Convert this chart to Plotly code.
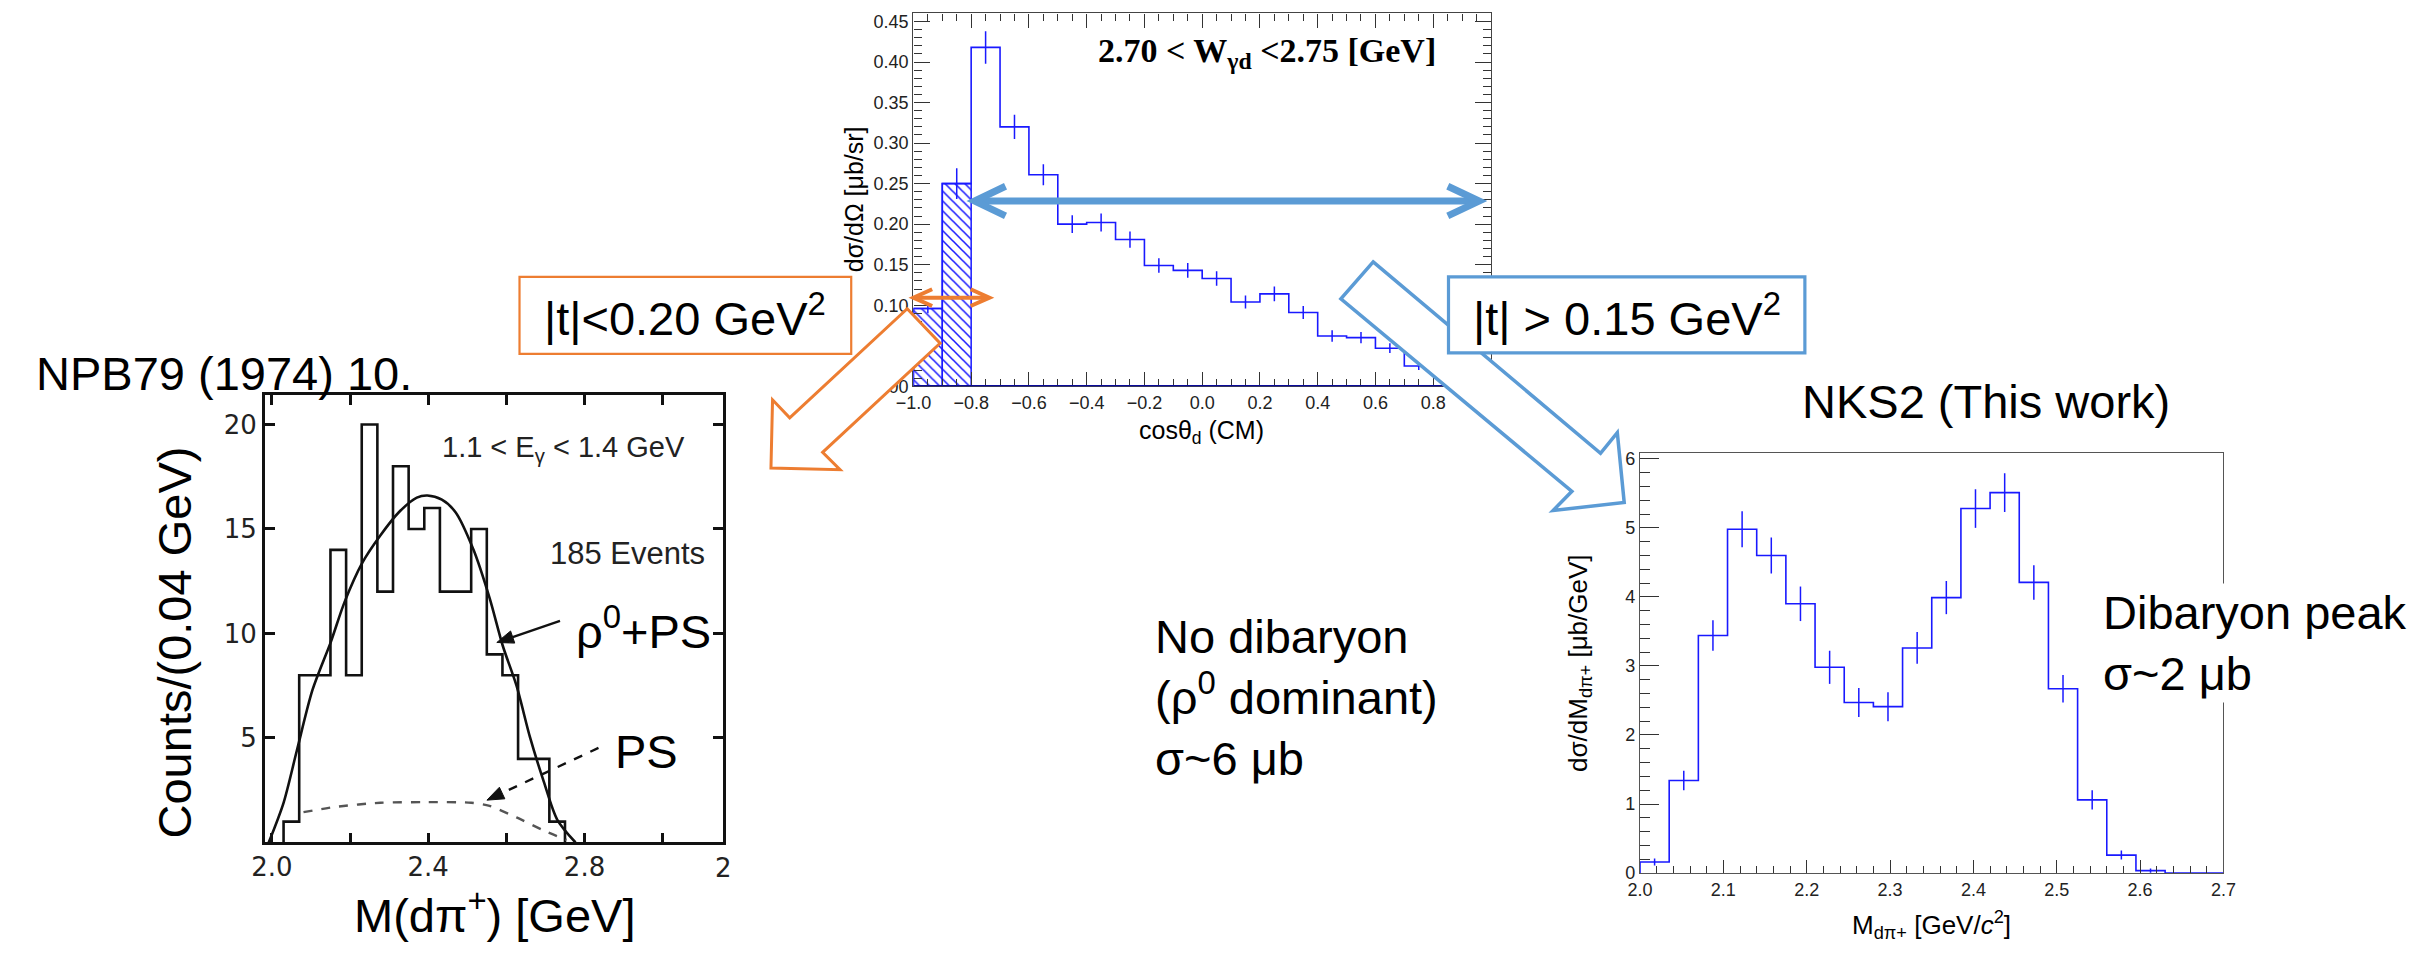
import math
import plotly.graph_objects as go

W, H = 2427, 953

# ----------------------------- data -----------------------------
# Top panel: dsigma/dOmega vs cos(theta_d) (CM), 2.70 < W_gd < 2.75 GeV
cos_centers = [-0.95, -0.85, -0.75, -0.65, -0.55, -0.45, -0.35, -0.25, -0.15, -0.05,
               0.05, 0.15, 0.25, 0.35, 0.45, 0.55, 0.65, 0.75, 0.85, 0.95]
dsdo_values = [0.096, 0.250, 0.418, 0.320, 0.261, 0.200, 0.202, 0.181, 0.149, 0.143,
               0.133, 0.104, 0.114, 0.091, 0.062, 0.060, 0.047, 0.025, 0.018, 0.010]
dsdo_errors = [0.006, 0.019, 0.020, 0.015, 0.013, 0.011, 0.011, 0.010, 0.009, 0.009,
               0.009, 0.008, 0.009, 0.008, 0.007, 0.007, 0.006, 0.005, 0.005, 0.004]
cos_bin_width = 0.1
n_hatched = 2          # bins inside the |t| < 0.20 GeV^2 selection
cos_ticks = [-1.0, -0.8, -0.6, -0.4, -0.2, 0.0, 0.2, 0.4, 0.6, 0.8, 1.0]
dsdo_ticks = [0.0, 0.05, 0.10, 0.15, 0.20, 0.25, 0.30, 0.35, 0.40, 0.45]

# Bottom right: NKS2 dsigma/dM(d pi+)
mass_centers = [2.0175, 2.0525, 2.0875, 2.1225, 2.1575, 2.1925, 2.2275, 2.2625, 2.2975, 2.3325,
                2.3675, 2.4025, 2.4375, 2.4725, 2.5075, 2.5425, 2.5775, 2.6125, 2.6475, 2.6825]
dsdm_values = [0.16, 1.34, 3.44, 4.98, 4.60, 3.90, 2.98, 2.47, 2.41, 3.26,
               3.99, 5.28, 5.51, 4.21, 2.67, 1.06, 0.26, 0.035, 0.0, 0.0]
dsdm_errors = [0.05, 0.14, 0.22, 0.26, 0.26, 0.25, 0.24, 0.21, 0.21, 0.23,
               0.24, 0.28, 0.28, 0.25, 0.20, 0.14, 0.065, 0.03, 0.0, 0.0]
mass_bin_width = 0.035
mass_ticks = [2.0, 2.1, 2.2, 2.3, 2.4, 2.5, 2.6, 2.7]
dsdm_ticks = [0, 1, 2, 3, 4, 5, 6]

# Bottom left: NPB79 (1974) 10, counts per 0.04 GeV (185 events)
old_centers = [2.05, 2.09, 2.13, 2.17, 2.21, 2.25, 2.29, 2.33, 2.37,
               2.41, 2.45, 2.49, 2.53, 2.57, 2.61, 2.65, 2.69, 2.73]
old_counts = [1, 8, 8, 14, 8, 20, 12, 18, 15, 16, 12, 12, 15, 9, 8, 4, 4, 1]
old_bin_width = 0.04
rho_ps_x = [1.992, 2.03, 2.064, 2.104, 2.151, 2.186, 2.232, 2.278, 2.325, 2.371, 2.398,
            2.435, 2.47, 2.516, 2.557, 2.591, 2.626, 2.661, 2.696, 2.73, 2.777]
rho_ps_y = [0, 1.9, 4.4, 7.3, 9.6, 11.5, 13.4, 14.7, 15.8, 16.5, 16.6,
            16.4, 15.8, 14.0, 11.7, 9.4, 7.5, 5.0, 2.9, 1.1, 0]
ps_x = [2.081, 2.162, 2.278, 2.394, 2.51, 2.557, 2.626, 2.696, 2.754]
ps_y = [1.45, 1.70, 1.90, 1.93, 1.90, 1.75, 1.20, 0.57, 0.12]
old_x_ticks = [2.0, 2.4, 2.8]
old_x_ticktext = ["2.0", "2.4", "2.8"]
old_x_minor = [2.2, 2.6, 3.0]
old_y_ticks = [5, 10, 15, 20]

# ----------------------------- helpers -----------------------------
def step_xy(centers, values, width):
    edges = [c - width / 2 for c in centers] + [centers[-1] + width / 2]
    return [edges[0]] + edges, [0] + list(values) + [0]


def px(x):
    return x / W


def py(y):
    return 1 - y / H


def path(points, close=True):
    s = "M " + " L ".join(f"{px(x):.5f},{py(y):.5f}" for x, y in points)
    return s + (" Z" if close else "")


def head_triangle(tail, head, length=17, half=6.5):
    dx, dy = head[0] - tail[0], head[1] - tail[1]
    n = math.hypot(dx, dy)
    ux, uy = dx / n, dy / n
    bx, by = head[0] - ux * length, head[1] - uy * length
    return [head, (bx - uy * half, by + ux * half), (bx + uy * half, by - ux * half)], (bx, by)


BLUE_H = "rgb(25,25,255)"
ORANGE = "#ED7D31"
LBLUE = "#5B9BD5"
FONT = "Liberation Sans, Arial, sans-serif"
BIG = 47

fig = go.Figure()

# ---- top panel ----
fig.add_trace(go.Bar(
    x=cos_centers[:n_hatched], y=dsdo_values[:n_hatched], width=cos_bin_width,
    marker=dict(color="white", line=dict(color=BLUE_H, width=1.5),
                pattern=dict(shape="\\", fgcolor=BLUE_H, bgcolor="white",
                             fillmode="replace", size=7, solidity=0.22)),
    xaxis="x", yaxis="y"))
sx, sy = step_xy(cos_centers, dsdo_values, cos_bin_width)
fig.add_trace(go.Scatter(x=sx, y=sy, mode="lines",
                         line=dict(color=BLUE_H, width=1.6, shape="hv"),
                         xaxis="x", yaxis="y"))
fig.add_trace(go.Scatter(x=cos_centers, y=dsdo_values, mode="markers",
                         marker=dict(size=1, color="rgba(0,0,0,0)"),
                         error_y=dict(type="data", array=dsdo_errors, visible=True,
                                      color=BLUE_H, thickness=1.5, width=0),
                         xaxis="x", yaxis="y"))

# ---- bottom left (old data) ----
ox, oy = step_xy(old_centers, old_counts, old_bin_width)
fig.add_trace(go.Scatter(x=ox, y=oy, mode="lines",
                         line=dict(color="#111", width=2.6, shape="hv"),
                         xaxis="x2", yaxis="y2"))
fig.add_trace(go.Scatter(x=rho_ps_x, y=rho_ps_y, mode="lines",
                         line=dict(color="#111", width=2.6, shape="spline", smoothing=0.8),
                         xaxis="x2", yaxis="y2"))
fig.add_trace(go.Scatter(x=ps_x, y=ps_y, mode="lines",
                         line=dict(color="#555", width=2.4, dash="dash",
                                   shape="spline", smoothing=0.8),
                         xaxis="x2", yaxis="y2"))

# ---- bottom right (NKS2) ----
mx, my = step_xy(mass_centers, dsdm_values, mass_bin_width)
fig.add_trace(go.Scatter(x=mx, y=my, mode="lines",
                         line=dict(color=BLUE_H, width=1.6, shape="hv"),
                         xaxis="x3", yaxis="y3"))
err_idx = [i for i, v in enumerate(dsdm_values) if v > 0]
fig.add_trace(go.Scatter(x=[mass_centers[i] for i in err_idx],
                         y=[dsdm_values[i] for i in err_idx], mode="markers",
                         marker=dict(size=1, color="rgba(0,0,0,0)"),
                         error_y=dict(type="data", array=[dsdm_errors[i] for i in err_idx],
                                      visible=True, color=BLUE_H, thickness=1.5, width=0),
                         xaxis="x3", yaxis="y3"))

# ----------------------------- axes -----------------------------
root_tick = dict(family=FONT, size=18, color="#222")
scan_tick = dict(family="DejaVu Sans, Liberation Sans, sans-serif", size=26, color="#222")
common = dict(showgrid=False, zeroline=False, showline=True, fixedrange=True)

layout_axes = dict(
    xaxis=dict(domain=[px(907), px(1492)], anchor="y", range=[-1, 1],
               tickmode="array", tickvals=cos_ticks, tickformat=".1f",
               ticks="inside", ticklen=14, tickwidth=1.2, tickcolor="#333",
               minor=dict(dtick=0.05, ticks="inside", ticklen=7, tickwidth=1, tickcolor="#333"),
               mirror="ticks", linecolor="#444", linewidth=1.4, tickfont=root_tick, **common),
    yaxis=dict(domain=[py(388), py(9.5)], anchor="x", range=[0, 0.46],
               tickmode="array", tickvals=dsdo_ticks, tickformat=".2f",
               ticks="inside", ticklen=16, tickwidth=1.2, tickcolor="#333",
               minor=dict(dtick=0.01, ticks="inside", ticklen=8, tickwidth=1, tickcolor="#333"),
               mirror="ticks", linecolor="#444", linewidth=1.4, tickfont=root_tick, **common),
    xaxis2=dict(domain=[px(250), px(714)], anchor="y2", range=[1.982, 3.154],
                tickmode="array", tickvals=old_x_ticks, ticktext=old_x_ticktext,
                ticks="inside", ticklen=10, tickwidth=2.5, tickcolor="#111",
                minor=dict(tickmode="array", tickvals=old_x_minor, ticks="inside",
                           ticklen=10, tickwidth=2.5, tickcolor="#111"),
                mirror="ticks", linecolor="#111", linewidth=2.6,
                tickfont=scan_tick, **common),
    yaxis2=dict(domain=[py(851), py(397)], anchor="x2", range=[0, 21.4],
                tickmode="array", tickvals=old_y_ticks,
                ticks="inside", ticklen=10, tickwidth=2.5, tickcolor="#111",
                mirror="ticks", linecolor="#111", linewidth=2.6,
                tickfont=scan_tick, **common),
    xaxis3=dict(domain=[px(1643), px(2234)], anchor="y3", range=[2.0, 2.7],
                tickmode="array", tickvals=mass_ticks, tickformat=".1f",
                ticks="inside", ticklen=13, tickwidth=1.2, tickcolor="#333",
                minor=dict(dtick=0.02, ticks="inside", ticklen=7, tickwidth=1, tickcolor="#333"),
                mirror=True, linecolor="#555", linewidth=1.4, tickfont=root_tick, **common),
    yaxis3=dict(domain=[py(882), py(456)], anchor="x3", range=[0, 6.08],
                tickmode="array", tickvals=dsdm_ticks,
                ticks="inside", ticklen=19, tickwidth=1.2, tickcolor="#333",
                minor=dict(dtick=0.2, ticks="inside", ticklen=10, tickwidth=1, tickcolor="#333"),
                mirror=True, linecolor="#555", linewidth=1.4, tickfont=root_tick, **common),
)

# ----------------------------- shapes -----------------------------
def pshape(points, close=True, **kw):
    d = dict(type="path", xref="paper", yref="paper", layer="above", path=path(points, close))
    d.update(kw)
    return d


shapes = []
# blue baseline of the top histogram
shapes.append(dict(type="line", xref="x", yref="y", x0=-1, x1=1, y0=0, y1=0,
                   line=dict(color="#0a0a9a", width=2.5), layer="above"))
# orange hollow arrow (down-left)
shapes.append(pshape([(900.7, 309.3), (934, 344.3), (815, 455), (832.7, 472.7),
                      (762.7, 471), (764.3, 401.7), (781.7, 420)],
                     fillcolor="white", line=dict(color=ORANGE, width=3)))
# blue hollow arrow (down-right)
shapes.append(pshape([(1372.7, 261.7), (1603, 456), (1620, 435), (1627, 506),
                      (1555, 514), (1574, 494.6), (1340, 299.3)],
                     fillcolor="white", line=dict(color=LBLUE, width=3.5)))
# boxes
shapes.append(dict(type="rect", xref="paper", yref="paper", layer="above",
                   x0=px(508), x1=px(844), y0=py(355), y1=py(277),
                   fillcolor="white", line=dict(color=ORANGE, width=2.2)))
shapes.append(dict(type="rect", xref="paper", yref="paper", layer="above",
                   x0=px(1449), x1=px(1810), y0=py(354), y1=py(277),
                   fillcolor="white", line=dict(color=LBLUE, width=3.2)))
# blue double arrow
shapes.append(pshape([(974, 200), (1475, 200)], close=False, line=dict(color=LBLUE, width=7)))
for pts in ([(1000.3, 185), (969, 200), (1000.3, 215)],
            [(1448.3, 185), (1480, 200), (1448.3, 215)]):
    shapes.append(pshape(pts, close=False, line=dict(color=LBLUE, width=7)))
# orange double arrow
shapes.append(pshape([(909, 298), (982, 298)], close=False, line=dict(color=ORANGE, width=4)))
for pts in ([(926, 289.5), (907, 298), (926, 306.5)],
            [(965, 289.5), (984, 298), (965, 306.5)]):
    shapes.append(pshape(pts, close=False, line=dict(color=ORANGE, width=4)))
# pointers in the old plot: solid to rho0+PS, dashed to PS
for tail, head, dash in (((549, 626), (485, 648), "solid"),
                         ((588, 755), (475, 808), "dash")):
    tri, base = head_triangle(tail, head)
    shapes.append(pshape([tail, base], close=False,
                         line=dict(color="#111", width=2.4, dash=dash)))
    shapes.append(pshape(tri, fillcolor="#111", line=dict(color="#111", width=1)))

# ----------------------------- annotations -----------------------------
def txt(text, x, y, size=BIG, xanchor="center", yanchor="middle", **kw):
    d = dict(text=text, x=px(x), y=py(y), xref="paper", yref="paper",
             showarrow=False, xanchor=xanchor, yanchor=yanchor,
             font=dict(family=kw.pop("family", FONT), size=size, color=kw.pop("color", "black")))
    d.update(kw)
    return d


ann = [
    txt("<b>2.70 &lt; W<sub>γd</sub> &lt;2.75 [GeV]</b>", 1265, 50, size=34,
        family="Liberation Serif, Times New Roman, serif"),
    txt("dσ/dΩ [μb/sr]", 847, 198, size=25, textangle=-90),
    txt("cosθ<sub>d</sub> (CM)", 1199, 434, size=25),
    txt("|t|&lt;0.20 GeV<sup>2</sup>", 676, 316),
    txt("|t| &gt; 0.15 GeV<sup>2</sup>", 1630, 316),
    txt("NPB79 (1974) 10.", 16, 375, xanchor="left"),
    txt("Counts/(0.04 GeV)", 158, 648, textangle=-90),
    txt("M(dπ<sup>+</sup>) [GeV]", 483, 922),
    txt("1.1 &lt; E<sub>γ</sub> &lt; 1.4 GeV", 553, 452, size=29, color="#222"),
    txt("185 Events", 617, 558, size=31, color="#222"),
    txt("ρ<sup>0</sup>+PS", 634, 633),
    txt("PS", 637, 759),
    txt("2", 704, 877, size=26, xanchor="left", color="#222",
        family="DejaVu Sans, Liberation Sans, sans-serif"),
    txt("No dibaryon<br>(ρ<sup>0</sup> dominant)<br>σ~6 μb", 1150, 704,
        xanchor="left", align="left"),
    txt("NKS2 (This work)", 1993, 403),
    txt("Dibaryon peak<br>σ~2 μb", 2109, 649, xanchor="left", align="left",
        bgcolor="white", borderpad=2),
    txt("dσ/dM<sub>dπ+</sub> [μb/GeV]", 1581, 669, size=26, textangle=-90),
    txt("M<sub>dπ+</sub> [GeV/<i>c</i><sup>2</sup>]", 1938, 935, size=26),
]

fig.update_layout(
    width=W, height=H, margin=dict(l=0, r=0, t=0, b=0),
    paper_bgcolor="white", plot_bgcolor="white",
    showlegend=False, barmode="overlay",
    font=dict(family=FONT, color="black"),
    shapes=shapes, annotations=ann, **layout_axes)

fig.write_html("out.html")
